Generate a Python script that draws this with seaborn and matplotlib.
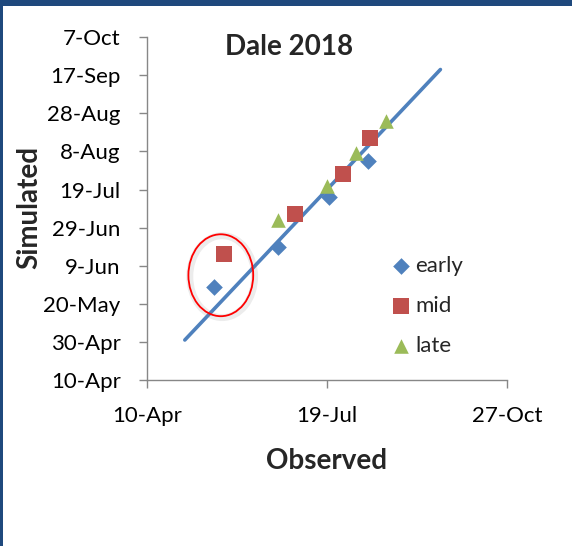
import matplotlib
matplotlib.use("Agg")
import matplotlib.pyplot as plt
import matplotlib.dates as mdates
import matplotlib.patheffects as pe
from matplotlib.patches import Ellipse, Rectangle
import pandas as pd
import seaborn as sns

# Observed vs simulated dates (Dale 2018)
early_obs = ["2018-05-17", "2018-06-22", "2018-07-20", "2018-08-11"]
early_sim = ["2018-05-29", "2018-06-19", "2018-07-15", "2018-08-03"]
mid_obs = ["2018-05-23", "2018-07-01", "2018-07-28", "2018-08-12"]
mid_sim = ["2018-06-15", "2018-07-06", "2018-07-27", "2018-08-15"]
late_obs = ["2018-06-22", "2018-07-19", "2018-08-04", "2018-08-21"]
late_sim = ["2018-07-03", "2018-07-21", "2018-08-07", "2018-08-24"]

# 1:1 line
line_x = ["2018-05-01", "2018-09-20"]
line_y = ["2018-05-01", "2018-09-20"]

# circled outliers
circle_center = ("2018-05-21", "2018-06-04")
circle_days = (36, 43)

x_ticks = ["2018-04-10", "2018-07-19", "2018-10-27"]
y_ticks = ["2018-04-10", "2018-04-30", "2018-05-20", "2018-06-09", "2018-06-29",
           "2018-07-19", "2018-08-08", "2018-08-28", "2018-09-17", "2018-10-07"]

series = [
    ("early", early_obs, early_sim, "#4F81BD", "D", 72),
    ("mid", mid_obs, mid_sim, "#C0504D", "s", 118),
    ("late", late_obs, late_sim, "#9BBB59", "^", 110),
]

sns.set_theme(style="ticks")
plt.rcParams['font.family'] = ['Lato', 'DejaVu Sans']

fig = plt.figure(figsize=(5.72, 5.46), dpi=100)
ax = fig.add_axes([0.257, 0.304, 0.6294, 0.628])

sns.lineplot(x=pd.to_datetime(line_x), y=pd.to_datetime(line_y), color="#4F81BD",
             linewidth=2.6, ax=ax)

for name, obs, sim, col, mk, size in series:
    sns.scatterplot(x=pd.to_datetime(obs), y=pd.to_datetime(sim), color=col, marker=mk,
                    s=size, linewidth=0, label=name, ax=ax, zorder=3)

cx = mdates.date2num(pd.Timestamp(circle_center[0]))
cy = mdates.date2num(pd.Timestamp(circle_center[1]))
ell = Ellipse((cx, cy), circle_days[0], circle_days[1], fill=False, edgecolor="#FF0000",
              linewidth=1.3, zorder=4)
ell.set_path_effects([pe.SimpleLineShadow(offset=(1, -1), shadow_color="gray",
                                          alpha=0.15, linewidth=5), pe.Normal()])
ax.add_patch(ell)

ax.set_xlim(pd.Timestamp(x_ticks[0]), pd.Timestamp(x_ticks[-1]))
ax.set_ylim(pd.Timestamp(y_ticks[0]), pd.Timestamp(y_ticks[-1]))
ax.set_xticks(pd.to_datetime(x_ticks))
ax.set_yticks(pd.to_datetime(y_ticks))
fmt = mdates.DateFormatter("%-d-%b")
ax.xaxis.set_major_formatter(fmt)
ax.yaxis.set_major_formatter(fmt)
ax.set_xlabel("")
ax.set_ylabel("")

sns.despine(ax=ax)
for side in ["left", "bottom"]:
    ax.spines[side].set_color("#878787")
    ax.spines[side].set_linewidth(1.0)
ax.tick_params(axis="both", labelsize=16, colors="#878787", labelcolor="black",
               length=6, width=1.0, pad=13)

fig.text(0.505, 0.8993, "Dale 2018", fontsize=20, fontweight="bold", ha="center", va="baseline")
fig.text(0.571, 0.141, "Observed", fontsize=20, fontweight="bold", ha="center", va="baseline")
fig.text(0.051, 0.62, "Simulated", fontsize=20, fontweight="bold", ha="center", va="center",
         rotation=90)

ax.legend(loc="upper left", bbox_to_anchor=(390 / 572, 0.531), bbox_transform=fig.transFigure,
          frameon=False, fontsize=16, handlelength=1.0, handletextpad=0.15,
          labelspacing=0.9, borderpad=0, borderaxespad=0)

# dark blue frame strips at top and left
fig.patches.append(Rectangle((0, 1 - 6 / 546), 1, 6 / 546, transform=fig.transFigure,
                             facecolor="#1F497D", edgecolor="none"))
fig.patches.append(Rectangle((0, 0), 3 / 572, 1, transform=fig.transFigure,
                             facecolor="#1F497D", edgecolor="none"))

fig.savefig("out.png", dpi=100)
